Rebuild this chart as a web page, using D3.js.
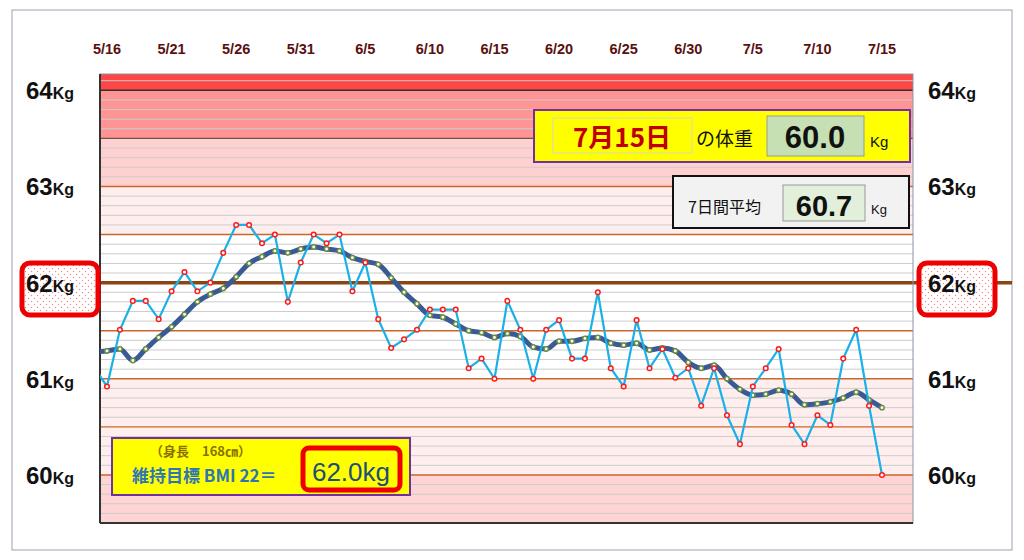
<!DOCTYPE html>
<html><head><meta charset="utf-8">
<script src="https://cdn.jsdelivr.net/npm/d3@7"></script>
<style>body{margin:0;background:#fff}svg{display:block;font-family:"Noto Sans CJK JP","Noto Sans",sans-serif}</style>
</head><body><svg id="c" width="1024" height="560"></svg>
<script>
const startDate = "5/16";
const dayCount = 61;
const weights = [60.92,61.51,61.81,61.81,61.62,61.91,62.11,61.91,62.0,62.31,62.6,62.6,62.41,62.5,61.8,62.21,62.5,62.41,62.5,61.91,62.21,61.62,61.32,61.41,61.51,61.72,61.72,61.72,61.11,61.21,61.0,61.81,
61.51,61.0,61.51,61.61,61.21,61.21,61.9,61.11,60.92,61.61,61.11,61.31,61.01,61.11,60.72,61.11,60.62,60.32,60.92,61.11,61.31,60.52,60.32,60.62,60.52,61.21,61.51,60.72,60.0];
const averages = [61.29,61.31,61.19,61.31,61.43,61.54,61.67,61.8,61.88,61.94,62.06,62.2,62.27,62.33,62.31,62.35,62.37,62.35,62.33,62.26,62.22,62.19,62.05,61.9,61.78,61.66,61.64,61.57,61.5,61.48,61.43,61.47,
61.44,61.33,61.31,61.39,61.39,61.42,61.43,61.37,61.35,61.37,61.3,61.32,61.29,61.17,61.11,61.14,61.0,60.89,60.83,60.84,60.88,60.84,60.73,60.74,60.76,60.8,60.86,60.78,60.7];
const prevWeight = 61.12, prevAverage = 61.28; // 5/15, partly visible at left edge
const tickLabels = ["5/16","5/21","5/26","5/31","6/5","6/10","6/15","6/20","6/25","6/30","7/5","7/10","7/15"];
const yTicks = [64,63,62,61,60];
const bands = [[64,64.17,"#ff4545"],[63.5,64,"#ff9494"],[63,63.5,"#ffd0d0"],[62.5,63,"#ffeeee"],[61,62.5,"#ffffff"],[60,61,"#ffeeee"],[59.5,60,"#ffd4d4"]];
const todayLabel = "7月15日", todayWeight = "60.0", avgLabel = "60.7", height = "168", bmiWeight = "62.0kg";

const svg = d3.select("#c");
const L=100,R=913,T=74,B=523;
const x = d3.scaleLinear().domain([0,60]).range([107,882]);
const y = d3.scaleLinear().domain([59.5,64.17]).range([B,T]);

svg.append("rect").attr("x",12).attr("y",10).attr("width",1000).attr("height",540).attr("fill","none").attr("stroke","#9aa4b4");
svg.append("defs").html(`<clipPath id="pc"><rect x="${L}" y="${T}" width="${R-L}" height="${B-T}"/></clipPath>
<pattern id="dots" width="6" height="6" patternUnits="userSpaceOnUse"><rect width="6" height="6" fill="#fff"/><circle cx="1.5" cy="1.5" r="0.7" fill="#e88"/><circle cx="4.5" cy="4.5" r="0.7" fill="#e88"/></pattern>`);

bands.forEach(b=>svg.append("rect").attr("x",L).attr("width",R-L).attr("y",y(b[1])).attr("height",y(b[0])-y(b[1])).attr("fill",b[2]));
const minor = d3.range(596,642).map(v=>v/10);
const half = d=>Math.abs(d*2-Math.round(d*2))<1e-6;
svg.selectAll(".g").data(minor).join("line").attr("x1",L).attr("x2",R).attr("y1",d=>y(d)).attr("y2",d=>y(d))
  .attr("stroke",d=>half(d)?"#c8662a":"#cccccc").attr("stroke-width",d=>half(d)?1.4:1);
svg.append("line").attr("x1",L).attr("x2",R).attr("y1",y(64.0)).attr("y2",y(64.0)).attr("stroke","#333").attr("stroke-width",1.5);
svg.append("line").attr("x1",L).attr("x2",R).attr("y1",y(63.5)).attr("y2",y(63.5)).attr("stroke","#555").attr("stroke-width",1);
svg.append("line").attr("x1",L).attr("x2",1012).attr("y1",y(62)).attr("y2",y(62)).attr("stroke","#8b4513").attr("stroke-width",3.5);
svg.append("rect").attr("x",L).attr("y",T).attr("width",R-L).attr("height",B-T).attr("fill","none").attr("stroke","#8896aa");
svg.append("line").attr("x1",L).attr("x2",L).attr("y1",T).attr("y2",B).attr("stroke","#333").attr("stroke-width",2);
svg.append("line").attr("x1",L).attr("x2",R).attr("y1",B).attr("y2",B).attr("stroke","#333").attr("stroke-width",2);

[[22,263],[919,263]].forEach(([bx,by])=>{
  svg.append("rect").attr("x",bx).attr("y",by).attr("width",76).attr("height",52).attr("rx",8).attr("fill","url(#dots)").attr("stroke","#ee0000").attr("stroke-width",5);
});

const tickIdx = tickLabels.map((t,i)=>i*5);
svg.selectAll(".dt").data(tickLabels).join("text").attr("x",(d,i)=>x(tickIdx[i])).attr("y",54).attr("text-anchor","middle")
  .attr("font-size",14.5).attr("font-weight","bold").attr("fill","#5a1010").attr("font-family","Liberation Sans,Arial").text(d=>d);

[26,928].forEach(lx=>{
  yTicks.forEach(v=>{
    const t=svg.append("text").attr("x",lx).attr("y",y(v)+9).attr("font-weight","bold").attr("fill","#111").attr("font-family","Liberation Sans,Arial");
    t.append("tspan").attr("font-size",24).text(v);
    t.append("tspan").attr("font-size",16).text("Kg");
  });
});

const g = svg.append("g").attr("clip-path","url(#pc)");
const wPts = [[-1,prevWeight]].concat(weights.map((v,i)=>[i,v]));
const aPts = [[-1,prevAverage]].concat(averages.map((v,i)=>[i,v]));
g.append("path").attr("d",d3.line().x(d=>x(d[0])).y(d=>y(d[1])).curve(d3.curveMonotoneX)(aPts)).attr("fill","none").attr("stroke","#3a5a96").attr("stroke-width",5);
g.selectAll(".ap").data(averages).join("circle").attr("cx",(d,i)=>x(i)).attr("cy",d=>y(d)).attr("r",2.2).attr("fill","#fff").attr("stroke","#6b8e3a").attr("stroke-width",1.5);
g.append("path").attr("d",d3.line().x(d=>x(d[0])).y(d=>y(d[1]))(wPts)).attr("fill","none").attr("stroke","#1ab0e8").attr("stroke-width",2.2);
g.selectAll(".wp").data(weights).join("circle").attr("cx",(d,i)=>x(i)).attr("cy",d=>y(d)).attr("r",2.3).attr("fill","#fff").attr("stroke","#ff1a1a").attr("stroke-width",1.5);

svg.append("rect").attr("x",534).attr("y",110).attr("width",376).attr("height",52).attr("fill","#ffff00").attr("stroke","#7030a0").attr("stroke-width",2);
svg.append("rect").attr("x",553).attr("y",118).attr("width",139).attr("height",35).attr("fill","none").attr("stroke","#d8d8c0");
svg.append("text").attr("x",622).attr("y",147).attr("text-anchor","middle").attr("font-size",26).attr("font-weight","bold").attr("fill","#c00000").text(todayLabel);
svg.append("text").attr("x",696).attr("y",146).attr("font-size",19).attr("fill","#111").text("の体重");
svg.append("rect").attr("x",767).attr("y",116).attr("width",97).attr("height",40).attr("fill","#c6e0b4").attr("stroke","#999");
svg.append("text").attr("x",815).attr("y",148).attr("text-anchor","middle").attr("font-size",31).attr("font-weight","bold").attr("fill","#111").attr("font-family","Liberation Sans Narrow,Liberation Sans").text(todayWeight);
svg.append("text").attr("x",870).attr("y",147).attr("font-size",15).attr("fill","#111").attr("font-family","Liberation Sans").text("Kg");
svg.append("rect").attr("x",673).attr("y",176).attr("width",236).attr("height",52).attr("fill","#f2f2f2").attr("stroke","#111").attr("stroke-width",2);
svg.append("text").attr("x",688).attr("y",213).attr("font-size",16).attr("fill","#111").text("7日間平均");
svg.append("rect").attr("x",783).attr("y",185).attr("width",82).attr("height",36).attr("fill","#e2efda").attr("stroke","#999");
svg.append("text").attr("x",824).attr("y",216).attr("text-anchor","middle").attr("font-size",29).attr("font-weight","bold").attr("fill","#111").attr("font-family","Liberation Sans Narrow,Liberation Sans").text(avgLabel);
svg.append("text").attr("x",871).attr("y",214).attr("font-size",13).attr("fill","#111").attr("font-family","Liberation Sans").text("Kg");
svg.append("rect").attr("x",112).attr("y",438).attr("width",298).attr("height",57).attr("fill","#ffff00").attr("stroke","#7030a0").attr("stroke-width",2);
svg.append("text").attr("x",150).attr("y",456).attr("font-size",13).attr("font-weight","bold").attr("fill","#8a7000").text("（身長　"+height+"㎝）");
svg.append("text").attr("x",132).attr("y",482).attr("font-size",17).attr("font-weight","bold").attr("fill","#2e75b6").text("維持目標 BMI 22＝");
svg.append("rect").attr("x",303).attr("y",448).attr("width",97).attr("height",42).attr("rx",6).attr("fill","#ffff00").attr("stroke","#ee0000").attr("stroke-width",5);
svg.append("text").attr("x",351).attr("y",481).attr("text-anchor","middle").attr("font-size",26).attr("fill","#1f4e79").attr("font-family","Liberation Sans").text(bmiWeight);
</script></body></html>
